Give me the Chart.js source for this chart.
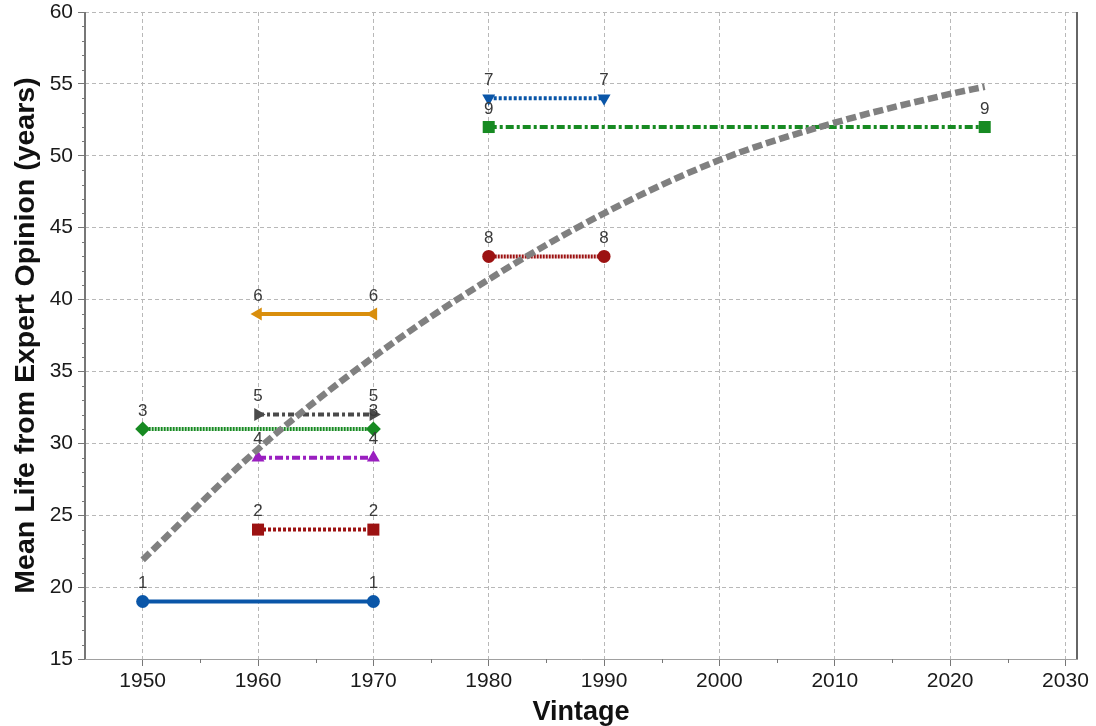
<!DOCTYPE html>
<html>
<head>
<meta charset="utf-8">
<script src="https://cdn.jsdelivr.net/npm/chart.js@4.4.1/dist/chart.umd.min.js"></script>
<style>
  html, body { margin: 0; padding: 0; background: #ffffff; }
  #wrap { width: 1096px; height: 726px; position: relative; }
</style>
</head>
<body>
<div id="wrap"><canvas id="c" width="1096" height="726"></canvas></div>
<script>
// ---- Data ----
const xTickValues = [1950, 1960, 1970, 1980, 1990, 2000, 2010, 2020, 2030];
const yTickValues = [15, 20, 25, 30, 35, 40, 45, 50, 55, 60];

const trendYears  = [1950, 1960, 1970, 1980, 1990, 2000, 2010, 2020, 2023];
const trendValues = [21.9, 29.6, 36.0, 41.4, 46.0, 49.7, 52.3, 54.3, 54.8];

const seriesLabels = ["1", "2", "3", "4", "5", "6", "7", "8", "9"];
const seriesStart  = [1950, 1960, 1950, 1960, 1960, 1960, 1980, 1980, 1980];
const seriesEnd    = [1970, 1970, 1970, 1970, 1970, 1970, 1990, 1990, 2023];
const seriesValue  = [19, 24, 31, 29, 32, 39, 54, 43, 52];

// ---- Styles ----
const seriesColor = ["#0a56a8", "#9c1212", "#178a22", "#9a1fc0", "#4a4a4a", "#d98e0c", "#0a56a8", "#9c1212", "#178a22"];
const seriesDash  = [[], [3, 2], [2, 1], [8, 3, 3, 3], [6, 3, 3, 3], [], [3, 2], [2, 1], [8, 3, 3, 3]];
const seriesPoint = ["circle", "rect", "rectRot", "triangle", "triangle", "triangle", "triangle", "circle", "rect"];
const seriesRot   = [0, 0, 0, 0, 90, -90, 180, 0, 0];
const seriesRad   = [6.5, 8.5, 7.5, 7.5, 7.5, 7.5, 7.5, 6.5, 8.5];

const datasets = [];
seriesLabels.forEach((lab, i) => {
  datasets.push({
    label: lab,
    data: [{x: seriesStart[i], y: seriesValue[i]}, {x: seriesEnd[i], y: seriesValue[i]}],
    borderColor: seriesColor[i],
    backgroundColor: seriesColor[i],
    borderWidth: 4,
    borderDash: seriesDash[i],
    borderCapStyle: 'butt',
    pointStyle: seriesPoint[i],
    pointRotation: seriesRot[i],
    pointRadius: seriesRad[i],
    pointBorderWidth: 0,
    showLine: true,
    fill: false,
    order: 2,
    isSeries: true
  });
});
datasets.push({
  label: "trend",
  data: trendYears.map((x, i) => ({x: x, y: trendValues[i]})),
  borderColor: "#808080",
  borderWidth: 6.5,
  borderDash: [10, 4],
  borderCapStyle: 'butt',
  pointRadius: 0,
  cubicInterpolationMode: 'monotone',
  showLine: true,
  fill: false,
  order: 1
});

const FONT = "'Liberation Sans', Arial, Helvetica, sans-serif";

const extrasPlugin = {
  id: 'extras',
  afterDatasetsDraw(chart) {
    const ctx = chart.ctx;
    ctx.save();
    ctx.font = "17px " + FONT;
    ctx.fillStyle = "#3a3a3a";
    ctx.textAlign = "center";
    ctx.textBaseline = "middle";
    chart.data.datasets.forEach((ds, di) => {
      if (!ds.isSeries) return;
      const meta = chart.getDatasetMeta(di);
      meta.data.forEach(pt => {
        ctx.fillText(ds.label, pt.x, pt.y - 18);
      });
    });
    ctx.restore();
  },
  afterDraw(chart) {
    const ctx = chart.ctx;
    const a = chart.chartArea;
    const xs = chart.scales.x, ys = chart.scales.y;
    ctx.save();
    ctx.strokeStyle = "#333";
    ctx.lineWidth = 1.5;
    ctx.beginPath();
    ctx.moveTo(a.right, a.top);
    ctx.lineTo(a.right, a.bottom);
    ctx.stroke();
    ctx.strokeStyle = "#777";
    ctx.lineWidth = 2;
    ctx.beginPath();
    ctx.moveTo(a.left, a.top);
    ctx.lineTo(a.left, a.bottom);
    ctx.stroke();
    ctx.strokeStyle = "#777";
    ctx.lineWidth = 1;
    for (let v = 16; v < 60; v++) {
      if (v % 5 === 0) continue;
      const py = Math.round(ys.getPixelForValue(v)) + 0.5;
      ctx.beginPath();
      ctx.moveTo(a.left - 3, py);
      ctx.lineTo(a.left, py);
      ctx.stroke();
    }
    for (let v = 1955; v < 2031; v += 10) {
      const px = Math.round(xs.getPixelForValue(v)) + 0.5;
      ctx.beginPath();
      ctx.moveTo(px, a.bottom);
      ctx.lineTo(px, a.bottom + 4);
      ctx.stroke();
    }
    ctx.restore();
  }
};

new Chart(document.getElementById('c'), {
  type: 'scatter',
  data: { datasets: datasets },
  plugins: [extrasPlugin],
  options: {
    responsive: false,
    animation: false,
    devicePixelRatio: 1,
    layout: { padding: { top: 12, right: 19, left: 9, bottom: 0 } },
    plugins: { legend: { display: false }, tooltip: { enabled: false } },
    scales: {
      x: {
        type: 'linear',
        min: 1945,
        max: 2031,
        afterBuildTicks: s => { s.ticks = xTickValues.map(v => ({value: v})); },
        afterFit: s => { s.height = 67; s.paddingLeft = 0; s.paddingRight = 0; },
        grid: { color: "#b8b8b8", lineWidth: 1, drawTicks: true, tickLength: 7, tickColor: "#777", tickBorderDash: [] },
        border: { display: true, color: "#a0a0a0", dash: [4, 3], width: 1 },
        ticks: { color: "#1a1a1a", font: { family: FONT, size: 21 }, padding: 3, maxRotation: 0, autoSkip: false,
                 callback: v => String(v) },
        title: { display: true, text: "Vintage", color: "#111", font: { family: FONT, size: 27, weight: 'bold' }, padding: { top: 0, bottom: -3 } }
      },
      y: {
        type: 'linear',
        min: 15,
        max: 60,
        afterBuildTicks: s => { s.ticks = yTickValues.map(v => ({value: v})); },
        afterFit: s => { s.width = 76; s.paddingTop = 0; s.paddingBottom = 0; },
        grid: { color: "#b8b8b8", lineWidth: 1, drawTicks: true, tickLength: 7, tickColor: "#777", tickBorderDash: [] },
        border: { display: false, dash: [4, 3] },
        ticks: { color: "#1a1a1a", font: { family: FONT, size: 21 }, padding: 5, callback: v => String(v) },
        title: { display: true, text: "Mean Life from Expert Opinion (years)", color: "#111", font: { family: FONT, size: 28.5, weight: 'bold' }, padding: { top: 0, bottom: 0 } }
      }
    }
  }
});
</script>
</body>
</html>
